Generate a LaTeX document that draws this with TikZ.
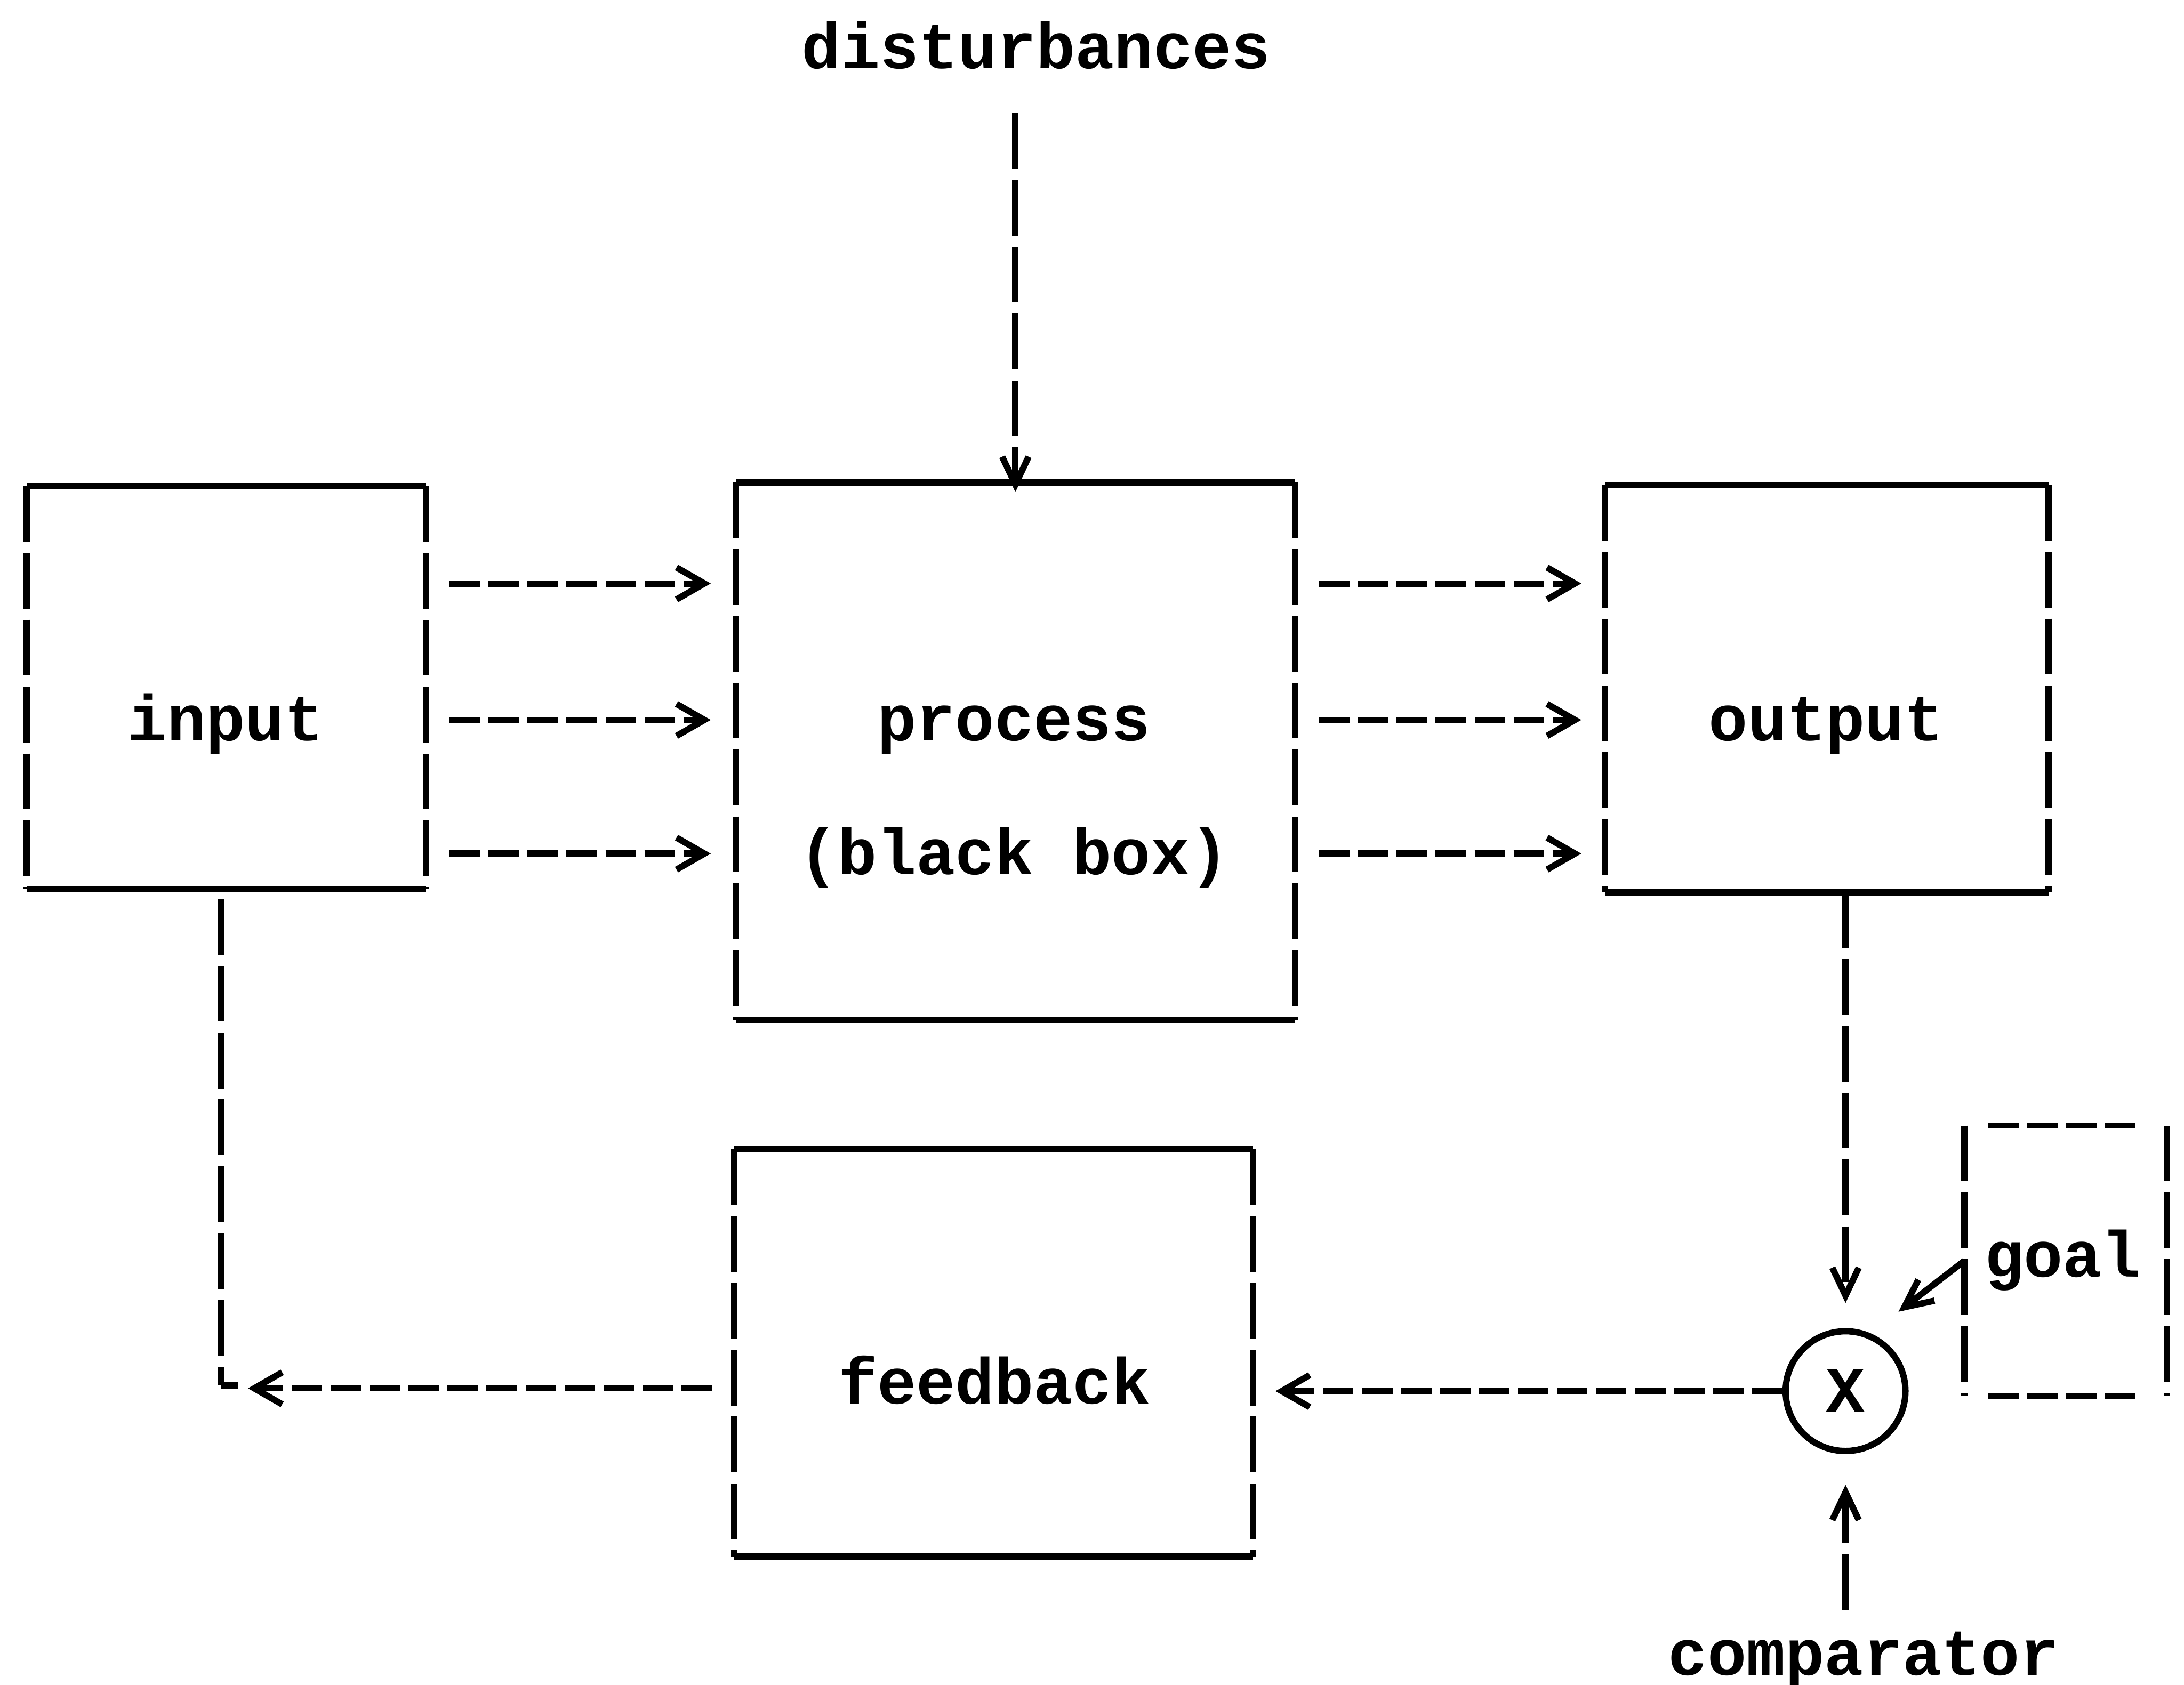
\documentclass[tikz,border=0pt]{standalone}
\usepackage{fontspec}
\setmonofont{Liberation Mono}
\usetikzlibrary{arrows.meta,fit,calc}

\tikzset{
  every node/.style={font=\ttfamily\bfseries\fontsize{13.3}{16}\selectfont, inner sep=0pt},
  frame/.style={inner sep=0pt, draw=none},
  solidedge/.style={line width=1.3pt},
  vdashed/.style={line width=1.3pt, dash pattern=on 4mm off 0.8mm},
  hdashed/.style={line width=1.3pt, dash pattern=on 2.2mm off 0.6mm},
  chevron/.style={-{Straight Barb[length=2mm,width=2.3mm]}},
  vtip/.style={-{Straight Barb[length=2mm,width=1.9mm]}},
  comparator/.style={circle, draw, line width=1.3pt, minimum size=8.6mm, inner sep=0pt}
}

\begin{document}
\begin{tikzpicture}[x=0.1mm, y=-0.1mm]
\useasboundingbox (0,0) rectangle (1568,1210);

% block outlines
\node[frame, fit={(19.7,349.8) (305,637.8)}] (input) {};
\node[frame, fit={(529,347) (929,732)}] (process) {};
\node[frame, fit={(1153,349) (1470,640)}] (output) {};
\node[frame, fit={(528,826) (899,1117)}] (feedback) {};
\node[frame, fit={(1411,809) (1555,1002)}] (goal) {};

\foreach \b in {input,process,output,feedback} {
  \draw[solidedge] (\b.north west) -- (\b.north east);
  \draw[solidedge] (\b.south west) -- (\b.south east);
  \draw[vdashed] (\b.north west) -- (\b.south west);
  \draw[vdashed] (\b.north east) -- (\b.south east);
}

% goal block: dashed on all sides
\draw[hdashed, shorten <=1.7mm, shorten >=1.9mm] (goal.north west) -- (goal.north east);
\draw[hdashed, shorten <=1.7mm, shorten >=1.9mm] (goal.south west) -- (goal.south east);
\draw[vdashed] (goal.north west) -- (goal.south west);
\draw[vdashed] (goal.north east) -- (goal.south east);

% labels
\node[anchor=base] (dist) at (744,49) {disturbances};
\node[anchor=base] (inputtxt) at (162,532) {input};
\node[anchor=base] (proctxt) at (728,532) {process};
\node[anchor=base] (blackbox) at (728,628) {(black box)};
\node[anchor=base] (outtxt) at (1311,532) {output};
\node[anchor=base] (fbtxt) at (714,1008) {feedback};
\node[anchor=base] (goaltxt) at (1481,917) {goal};
\node[anchor=base] (comptxt) at (1338,1203) {comparator};
\node[comparator] (cmp) at (1325,999) {X};

% signal rows between the blocks
\coordinate (r1) at (0,419);
\coordinate (r2) at (0,517);
\coordinate (r3) at (0,613);
\foreach \r in {r1,r2,r3} {
  \draw[hdashed, chevron, shorten <=1.7mm, shorten >=1.8mm] (input.east |- \r) -- (process.west |- \r);
  \draw[hdashed, chevron, shorten <=1.7mm, shorten >=1.7mm] (process.east |- \r) -- (output.west |- \r);
}

% disturbances into the process
\draw[vdashed, vtip, shorten <=3.1mm, shorten >=-0.7mm] (process.north |- dist.south) -- (process.north);

% output to comparator, goal and comparator inputs
\draw[vdashed, vtip, shorten >=1.8mm] (output.south -| cmp) -- (cmp.north);
\coordinate (goaltip) at (1363,942);
\draw[solidedge, vtip] (goal.west) -- (goaltip);
\draw[vdashed, vtip, shorten <=1.5mm, shorten >=2.2mm] (cmp |- comptxt.north) -- (cmp.south);

% feedback loop
\draw[hdashed, chevron, shorten >=1.6mm] (cmp.west) -- (feedback.east |- cmp.west);
\coordinate (r4) at (0,997);
\coordinate (fbend) at (178,997);
\draw[hdashed, chevron, shorten <=1.6mm] (feedback.west |- r4) -- (fbend);
\coordinate (elbow) at (159,995);
\draw[vdashed] ([yshift=-0.7mm]input.south -| elbow) -- (elbow);
\draw[solidedge] (elbow) -- ++(12,0);
\end{tikzpicture}
\end{document}
